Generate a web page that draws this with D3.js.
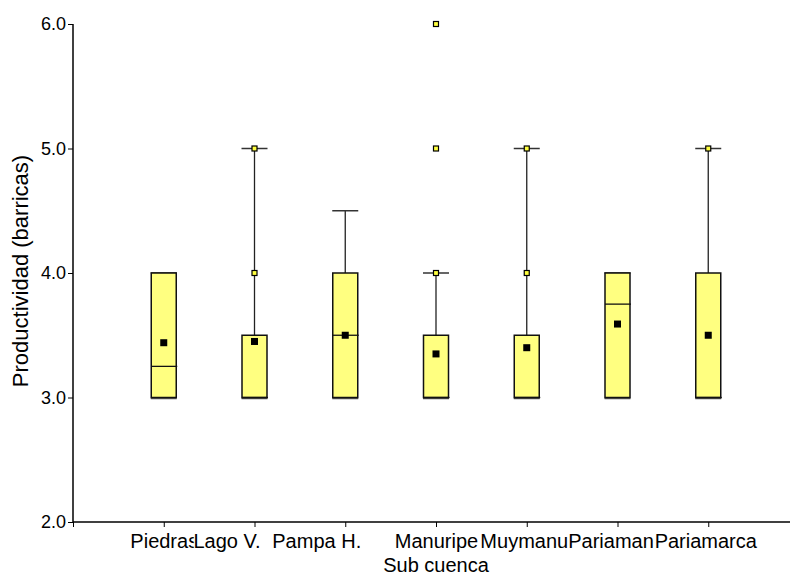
<!DOCTYPE html>
<html>
<head>
<meta charset="utf-8">
<script src="https://cdn.jsdelivr.net/npm/d3@7"></script>
<style>
  body { margin: 0; background: #fff; }
  text { font-family: "Liberation Sans", Arial, sans-serif; }
</style>
</head>
<body>
<div id="chart"></div>
<script>
const categories = ["Piedras", "Lago V.", "Pampa H.", "Manuripe", "Muymanu", "Pariaman", "Pariamarca"];
const q1 = [3, 3, 3, 3, 3, 3, 3];
const medians = [3.25, 3, 3.5, 3, 3, 3.75, 3];
const q3 = [4, 3.5, 4, 3.5, 3.5, 4, 4];
const whiskLo = [3, 3, 3, 3, 3, 3, 3];
const whiskHi = [4, 5, 4.5, 4, 5, 4, 5];
const means = [3.44, 3.45, 3.5, 3.35, 3.4, 3.59, 3.5];
const outliers = [[], [4, 5], [], [4, 5, 6], [4, 5], [], [5]];
const yTicks = [2, 3, 4, 5, 6];

const width = 790, height = 576;
const svg = d3.select("#chart").append("svg").attr("width", width).attr("height", height);

const x = d3.scaleLinear().domain([0, 8]).range([73, 799]);
const y = d3.scaleLinear().domain([2, 6]).range([522, 24]);

// axes
const yAxis = svg.append("g").attr("transform", "translate(73,0)")
    .call(d3.axisLeft(y).tickValues(yTicks).tickFormat(d3.format(".1f")).tickSize(5).tickPadding(2));
yAxis.select(".domain").attr("d", `M0,${y(6)}V${y(2)}`).attr("stroke-width", 1.5);
yAxis.selectAll("text").attr("font-size", 18).attr("fill", "#000");

// the original program squeezes some labels to the left
const labelDx = [0, -28, -29, 0, -3, -7, -3];
const xAxis = svg.append("g").attr("transform", "translate(0,522)")
    .call(d3.axisBottom(x).tickValues([0, 1, 2, 3, 4, 5, 6, 7]).tickFormat(d => categories[d - 1] || "").tickSize(5).tickPadding(7));
xAxis.select(".domain").attr("d", "M73,0H790").attr("stroke-width", 1.5);
xAxis.selectAll("text").attr("font-size", 20).attr("fill", "#000")
    .attr("dx", d => d > 0 ? labelDx[d - 1] : 0)
    .attr("stroke", "#fff").attr("stroke-width", 2.5).attr("paint-order", "stroke");

svg.append("text").attr("x", 436).attr("y", 572).attr("text-anchor", "middle")
    .attr("font-size", 20).text("Sub cuenca");
svg.append("text").attr("transform", "translate(28,271) rotate(-90)").attr("text-anchor", "middle")
    .attr("font-size", 22).text("Productividad (barricas)");

const bw = 25, cw = 26;
const boxes = svg.append("g");
categories.forEach((c, i) => {
    const cx = x(i + 1);
    const g = boxes.append("g");
    // whisker up
    if (whiskHi[i] > q3[i]) {
        g.append("line").attr("x1", cx).attr("x2", cx).attr("y1", y(q3[i])).attr("y2", y(whiskHi[i]))
            .attr("stroke", "#222").attr("stroke-width", 1.3);
    }
    g.append("line").attr("x1", cx - cw / 2).attr("x2", cx + cw / 2).attr("y1", y(whiskHi[i])).attr("y2", y(whiskHi[i]))
        .attr("stroke", "#333").attr("stroke-width", 1.5);
    g.append("line").attr("x1", cx - cw / 2).attr("x2", cx + cw / 2).attr("y1", y(whiskLo[i]) + 1).attr("y2", y(whiskLo[i]) + 1)
        .attr("stroke", "#555").attr("stroke-width", 1.5);
    g.append("rect").attr("x", cx - bw / 2).attr("y", y(q3[i])).attr("width", bw).attr("height", y(q1[i]) - y(q3[i]))
        .attr("fill", "#ffff80").attr("stroke", "#111").attr("stroke-width", 1.5);
    g.append("line").attr("x1", cx - bw / 2).attr("x2", cx + bw / 2 + 1).attr("y1", y(medians[i])).attr("y2", y(medians[i]))
        .attr("stroke", "#111").attr("stroke-width", 1.3);
    g.append("rect").attr("x", cx - 3.5).attr("y", y(means[i]) - 3.5).attr("width", 7).attr("height", 7).attr("fill", "#000");
    outliers[i].forEach(v => {
        g.append("rect").attr("x", cx - 2.5).attr("y", y(v) - 2.5).attr("width", 5).attr("height", 5)
            .attr("fill", "#ffff40").attr("stroke", "#000").attr("stroke-width", 1.2);
    });
});
</script>
</body>
</html>
